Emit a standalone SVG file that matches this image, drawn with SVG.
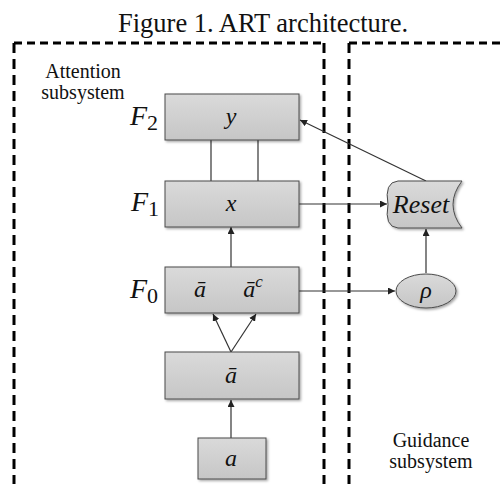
<svg xmlns="http://www.w3.org/2000/svg" width="502" height="484" viewBox="0 0 502 484">
  <defs>
    <linearGradient id="boxFill" x1="0" y1="0" x2="0" y2="1">
      <stop offset="0" stop-color="#dadada"/>
      <stop offset="1" stop-color="#c6c6c6"/>
    </linearGradient>
    <filter id="shadow" x="-10%" y="-10%" width="130%" height="140%">
      <feDropShadow dx="1.5" dy="1.5" stdDeviation="1" flood-color="#000" flood-opacity="0.35"/>
    </filter>
    <marker id="arrow" viewBox="0 0 10 10" refX="10" refY="5" markerWidth="7" markerHeight="7" markerUnits="userSpaceOnUse" orient="auto">
      <path d="M0,0 L10,5 L0,10 z" fill="#222"/>
    </marker>
  </defs>
  <style>
    .box { fill: url(#boxFill); stroke: #4a4a4a; stroke-width: 1; filter: url(#shadow); }
    .frame { fill: none; stroke: #000; stroke-width: 3; }
    .hdash { stroke-dasharray: 8 5; }
    .vdash { stroke-dasharray: 10 6; }
    .link { fill: none; stroke: #333; stroke-width: 1.2; }
    .arrowed { marker-end: url(#arrow); }
    .caption { font-family: "Liberation Serif", "Times New Roman", serif; fill: #111; }
    .math { font-family: "Liberation Serif", "Times New Roman", serif; font-style: italic; fill: #111; }
    .sub { font-style: normal; }
  </style>

  <!-- title -->
  <text class="caption" x="263" y="32" font-size="26.5" text-anchor="middle">Figure 1. ART architecture.</text>

  <!-- subsystem frames -->
  <g id="attention-frame">
    <line class="frame hdash" x1="14" y1="43" x2="324" y2="43"/>
    <line class="frame vdash" x1="14" y1="43" x2="14" y2="484"/>
    <line class="frame vdash" x1="324" y1="43" x2="324" y2="484"/>
    <text class="caption" x="83" y="78" font-size="20" text-anchor="middle">Attention</text>
    <text class="caption" x="83" y="99" font-size="20" text-anchor="middle">subsystem</text>
  </g>
  <g id="guidance-frame">
    <line class="frame hdash" x1="349" y1="43" x2="502" y2="43"/>
    <line class="frame vdash" x1="349" y1="43" x2="349" y2="484"/>
    <text class="caption" x="431" y="447" font-size="20" text-anchor="middle">Guidance</text>
    <text class="caption" x="431" y="468" font-size="20" text-anchor="middle">subsystem</text>
  </g>

  <!-- connectors -->
  <g id="connectors">
    <line class="link" x1="211" y1="140" x2="211" y2="181"/>
    <line class="link" x1="258" y1="140" x2="258" y2="181"/>
    <line class="link arrowed" x1="231" y1="267" x2="231" y2="227"/>
    <line class="link arrowed" x1="231" y1="352" x2="213" y2="314"/>
    <line class="link arrowed" x1="231" y1="352" x2="256" y2="314"/>
    <line class="link arrowed" x1="231" y1="438" x2="231" y2="400"/>
    <line class="link arrowed" x1="299" y1="204" x2="387" y2="204"/>
    <line class="link arrowed" x1="299" y1="291" x2="395" y2="291"/>
    <line class="link arrowed" x1="426" y1="273" x2="426" y2="229"/>
    <line class="link arrowed" x1="426" y1="181" x2="300" y2="120"/>
  </g>

  <!-- F2 layer -->
  <g id="f2">
    <rect class="box" x="165" y="94" width="134" height="46"/>
    <text class="math" x="130" y="125" font-size="28">F<tspan class="sub" font-size="22" dy="5">2</tspan></text>
    <text class="math" x="231" y="124" font-size="24" text-anchor="middle">y</text>
  </g>

  <!-- F1 layer -->
  <g id="f1">
    <rect class="box" x="165" y="181" width="134" height="46"/>
    <text class="math" x="131" y="211" font-size="28">F<tspan class="sub" font-size="22" dy="5">1</tspan></text>
    <text class="math" x="231" y="211" font-size="24" text-anchor="middle">x</text>
  </g>

  <!-- F0 layer -->
  <g id="f0">
    <rect class="box" x="165" y="267" width="134" height="46"/>
    <text class="math" x="130" y="298" font-size="28">F<tspan class="sub" font-size="22" dy="5">0</tspan></text>
    <text class="math" x="200" y="297" font-size="24" text-anchor="middle">ā</text>
    <text class="math" x="253" y="297" font-size="24" text-anchor="middle">ā<tspan font-size="17" dy="-10">c</tspan></text>
  </g>

  <!-- complement coding -->
  <g id="coding">
    <rect class="box" x="165" y="352" width="134" height="47"/>
    <text class="math" x="231" y="383" font-size="24" text-anchor="middle">ā</text>
  </g>

  <!-- input -->
  <g id="input">
    <rect class="box" x="198" y="438" width="68" height="41"/>
    <text class="math" x="231" y="466" font-size="24" text-anchor="middle">a</text>
  </g>

  <!-- reset -->
  <g id="reset">
    <path class="box" d="M398,181 L462,181 Q444,204.5 462,228 L398,228 Q384,227 388,204.5 Q384,182 398,181 Z"/>
    <text class="math" x="421" y="213" font-size="26" text-anchor="middle">Reset</text>
  </g>

  <!-- vigilance -->
  <g id="rho">
    <ellipse class="box" cx="426" cy="291" rx="30" ry="17"/>
    <text class="math" x="426" y="298" font-size="24" text-anchor="middle">ρ</text>
  </g>
</svg>
